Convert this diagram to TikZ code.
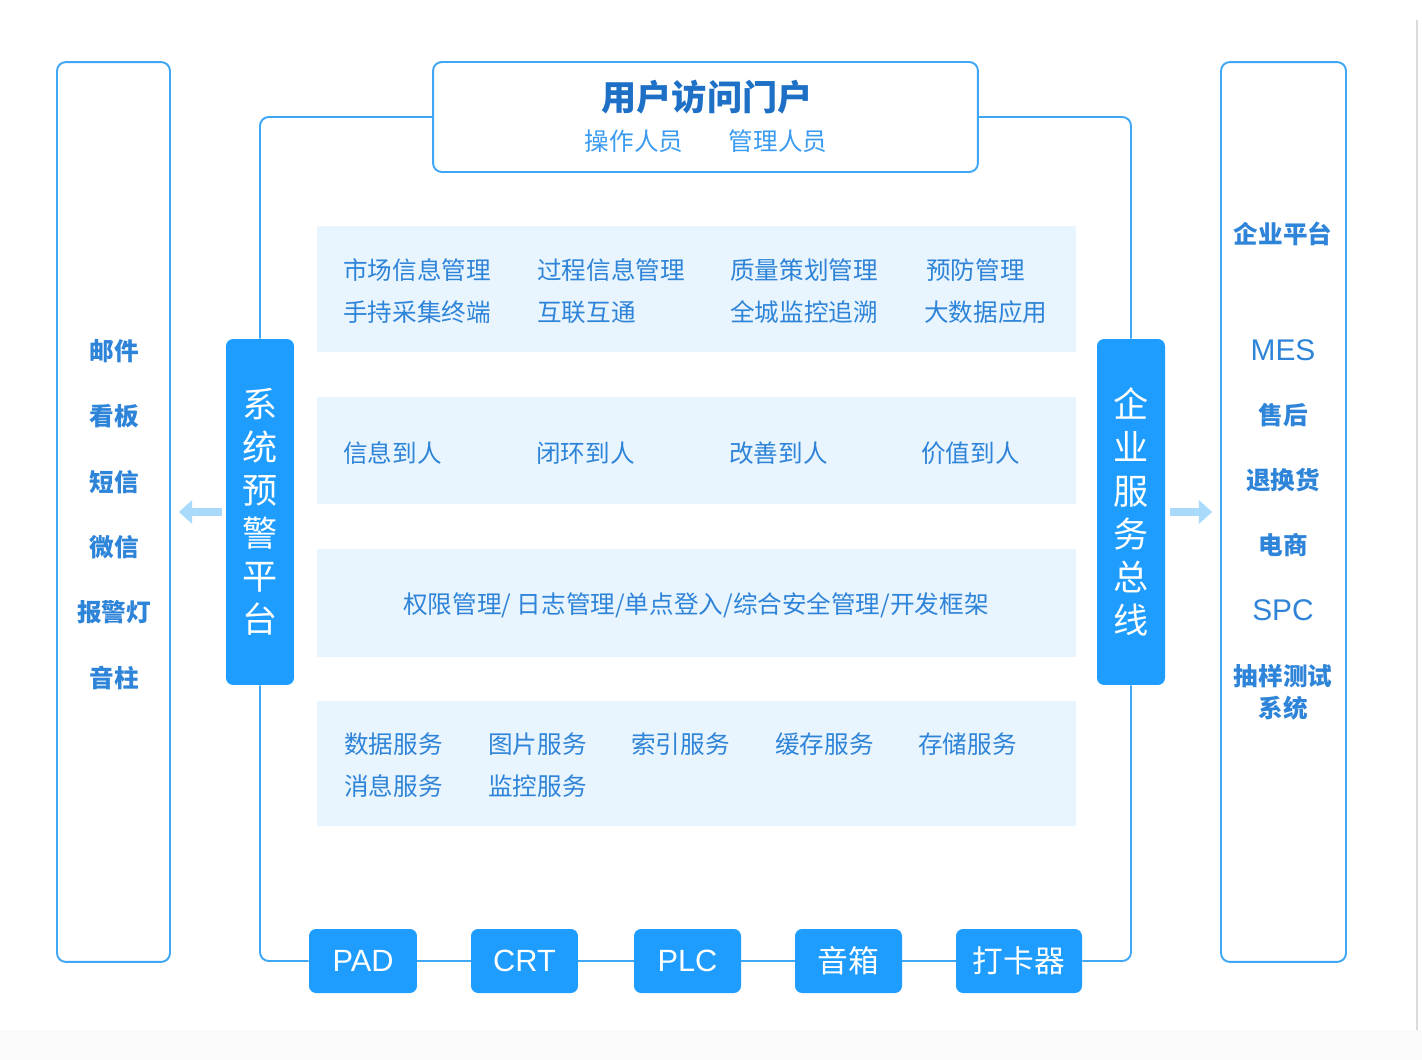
\documentclass[tikz,border=0pt]{standalone}
\usepackage{fontspec}
\setmainfont{Noto Sans CJK SC}
\newfontfamily\latin{Liberation Sans}
\usetikzlibrary{arrows.meta}
\definecolor{lineblue}{HTML}{3FA7F5}
\definecolor{barblue}{HTML}{1E9DFF}
\definecolor{panelbg}{HTML}{E8F4FE}
\definecolor{txtblue}{HTML}{2E84D8}
\definecolor{darkblue}{HTML}{1E70C6}
\definecolor{subblue}{HTML}{3A9BF0}
\definecolor{arrowblue}{HTML}{A9DAFB}
\begin{document}
\begin{tikzpicture}[x=0.02cm,y=-0.02cm,
    line/.style={draw=lineblue,line width=1.1pt},
    col/.style={line,rounded corners=5pt,minimum width=#1,minimum height=18cm,inner sep=0pt,fill=white},
    bar/.style={fill=barblue,rounded corners=4pt,minimum width=1.36cm,minimum height=6.92cm,inner sep=0pt,
        text=white,align=center,font=\fontsize{20pt}{24.5pt}\selectfont},
    panel/.style={fill=panelbg,minimum width=15.18cm,minimum height=#1,inner sep=0pt},
    item/.style={anchor=west,inner sep=0pt,text=txtblue,font=\fontsize{14pt}{17pt}\selectfont},
    side/.style={inner sep=0pt,text=txtblue,align=center,font=\fontsize{14pt}{18pt}\selectfont\bfseries},
    btn/.style={fill=barblue,rounded corners=4pt,minimum width=#1,minimum height=1.28cm,inner sep=0pt,
        text=white,font=\fontsize{17.5pt}{20pt}\selectfont},
    arr/.style={draw=arrowblue,line width=4.5pt,-{Triangle[length=7.5pt,width=13pt]}}
  ]
\useasboundingbox (0,0) rectangle (1422,1060);
\fill[white] (0,0) rectangle (1422,1060);
\fill[black!2] (0,1030) rectangle (1422,1060);
\draw[black!14,line width=1.1pt] (1417,20) -- (1417,1030);

\node[col=2.26cm] (notify) at (113.5,512) {};
\node[col=2.5cm] (ent) at (1283.5,512) {};

\node[line,rounded corners=5pt,fill=white,minimum width=10.9cm,minimum height=2.2cm,inner sep=0pt] (portal) at (705.5,117) {};
\node[inner sep=0pt,text=darkblue,font=\fontsize{20pt}{24pt}\selectfont\bfseries] (title) at (707,97) {用户访问门户};
\node[inner sep=0pt,text=subblue,font=\fontsize{14pt}{17pt}\selectfont] (op) at (634,141) {操作人员};
\node[inner sep=0pt,text=subblue,font=\fontsize{14pt}{17pt}\selectfont] (mgr) at (778,141) {管理人员};

\node[bar] (warn) at (260,512) {系\\统\\预\\警\\平\\台};
\node[bar] (bus) at (1131,512) {企\\业\\服\\务\\总\\线};

\node[btn=2.16cm] (pad) at (363,961) {\latin PAD};
\node[btn=2.14cm] (crt) at (524.5,961) {\latin CRT};
\node[btn=2.14cm] (plc) at (687.5,961) {\latin PLC};
\node[btn=2.14cm] (box) at (848.5,961) {音箱};
\node[btn=2.52cm] (card) at (1019,961) {打卡器};

\draw[line,rounded corners=5pt] (portal.west) -| (warn.north);
\draw[line,rounded corners=5pt] (warn.south) |- (pad.west);
\draw[line] (pad.east) -- (crt.west);
\draw[line] (crt.east) -- (plc.west);
\draw[line] (plc.east) -- (box.west);
\draw[line] (box.east) -- (card.west);
\draw[line,rounded corners=5pt] (card.east) -| (bus.south);
\draw[line,rounded corners=5pt] (bus.north) |- (portal.east);

\draw[arr,shorten <=2.3pt,shorten >=4.5pt] (warn.west) -- (notify.east);
\draw[arr,shorten <=2.8pt,shorten >=4.5pt] (bus.east) -- (ent.west);

\node[panel=2.52cm] (p1) at (696.5,289) {};
\node[panel=2.14cm] (p2) at (696.5,450.5) {};
\node[panel=2.16cm] (p3) at (696.5,603) {};
\node[panel=2.5cm] (p4) at (696.5,763.5) {};

\node[item] (a1) at (343,270) {市场信息管理};
\node[item] (a2) at (537,270) {过程信息管理};
\node[item] (a3) at (730,270) {质量策划管理};
\node[item] (a4) at (926,270) {预防管理};
\node[item] (a5) at (343,312) {手持采集终端};
\node[item] (a6) at (537,312) {互联互通};
\node[item] (a7) at (730,312) {全城监控追溯};
\node[item] (a8) at (924,312) {大数据应用};

\node[item] (b1) at (343,453) {信息到人};
\node[item] (b2) at (536,453) {闭环到人};
\node[item] (b3) at (729,453) {改善到人};
\node[item] (b4) at (921,453) {价值到人};

\node[item,anchor=center] (c1) at (696,605) {权限管理/ 日志管理/单点登入/综合安全管理/开发框架};

\node[item] (d1) at (344,744) {数据服务};
\node[item] (d2) at (488,744) {图片服务};
\node[item] (d3) at (631,744) {索引服务};
\node[item] (d4) at (775,744) {缓存服务};
\node[item] (d5) at (918,744) {存储服务};
\node[item] (d6) at (344,786) {消息服务};
\node[item] (d7) at (488,786) {监控服务};

\node[side] (l1) at (114,351) {邮件};
\node[side] (l2) at (114,416) {看板};
\node[side] (l3) at (114,482) {短信};
\node[side] (l4) at (114,547) {微信};
\node[side] (l5) at (114,612) {报警灯};
\node[side] (l6) at (114,678) {音柱};

\node[side] (r1) at (1283,234) {企业平台};
\node[side,font=\fontsize{17pt}{20pt}\selectfont\latin] (r2) at (1283,350) {MES};
\node[side] (r3) at (1283,415) {售后};
\node[side] (r4) at (1283,480) {退换货};
\node[side] (r5) at (1283,545) {电商};
\node[side,font=\fontsize{17pt}{20pt}\selectfont\latin] (r6) at (1283,610) {SPC};
\node[side] (r7) at (1283,692) {抽样测试\\系统};
\end{tikzpicture}
\end{document}
